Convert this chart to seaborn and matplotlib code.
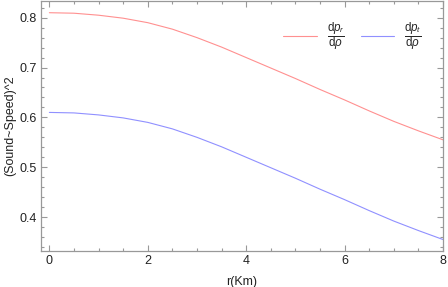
import numpy as np
import pandas as pd
import matplotlib
matplotlib.use("Agg")
import matplotlib.pyplot as plt
import seaborn as sns
from matplotlib.ticker import MultipleLocator, FuncFormatter

# values
r_km = [0, 0.5, 1, 1.5, 2, 2.5, 3, 3.5, 4, 4.5, 5, 5.5, 6, 6.5, 7, 7.5, 8]
v_radial = [0.810, 0.809, 0.805, 0.799, 0.790, 0.777, 0.760, 0.741, 0.720,
            0.699, 0.678, 0.656, 0.635, 0.613, 0.592, 0.573, 0.555]
v_tangential = [0.610, 0.609, 0.605, 0.599, 0.590, 0.577, 0.560, 0.541, 0.520,
                0.499, 0.478, 0.456, 0.435, 0.413, 0.392, 0.373, 0.355]
labels = [r'$\frac{\mathrm{d}p_r}{\mathrm{d}\rho}$', r'$\frac{\mathrm{d}p_t}{\mathrm{d}\rho}$']

sns.set_style("ticks")
plt.rcParams['font.family'] = ['Liberation Sans', 'DejaVu Sans']
plt.rcParams['mathtext.fontset'] = 'custom'
plt.rcParams['mathtext.rm'] = 'Liberation Sans'
plt.rcParams['mathtext.it'] = 'Liberation Sans:italic'

df = pd.DataFrame({
    'r': r_km * 2,
    'v': v_radial + v_tangential,
    'series': [labels[0]] * len(r_km) + [labels[1]] * len(r_km),
})

fig = plt.figure(figsize=(4.48, 2.87), dpi=100)
ax = fig.add_axes([0.0915, 0.1254, 0.8975, 0.872])
sns.lineplot(data=df, x='r', y='v', hue='series', palette=['#ff9090', '#9090ff'],
             linewidth=0.8, ax=ax)

ax.set_xlim(-0.17, 8.0)
ax.set_ylim(0.332, 0.834)
ax.xaxis.set_major_locator(MultipleLocator(2))
ax.xaxis.set_minor_locator(MultipleLocator(0.5))
ax.yaxis.set_major_locator(MultipleLocator(0.1))
ax.yaxis.set_minor_locator(MultipleLocator(0.02))
ax.xaxis.set_major_formatter(FuncFormatter(lambda v, p: f'{v:g}'))
ax.yaxis.set_major_formatter(FuncFormatter(lambda v, p: f'{v:.1f}'))

grey = '#999999'
for s in ax.spines.values():
    s.set_color(grey)
    s.set_linewidth(0.9)
ax.tick_params(which='both', direction='in', top=True, right=True, colors=grey,
               labelcolor='#222222', labelsize=9, width=0.8, pad=3)
ax.tick_params(which='major', length=4)
ax.tick_params(which='minor', length=2)

ax.set_xlabel('r(Km)', fontsize=9, color='#222222', labelpad=6)
ax.set_ylabel('(Sound~Speed)^2', fontsize=9, color='#222222', labelpad=2)

ax.legend(loc='center', bbox_to_anchor=(0.775, 0.855), ncol=2, frameon=False,
          fontsize=12, handlelength=2.0, columnspacing=1.0, handletextpad=0.6)

fig.savefig('out.png', dpi=100)
